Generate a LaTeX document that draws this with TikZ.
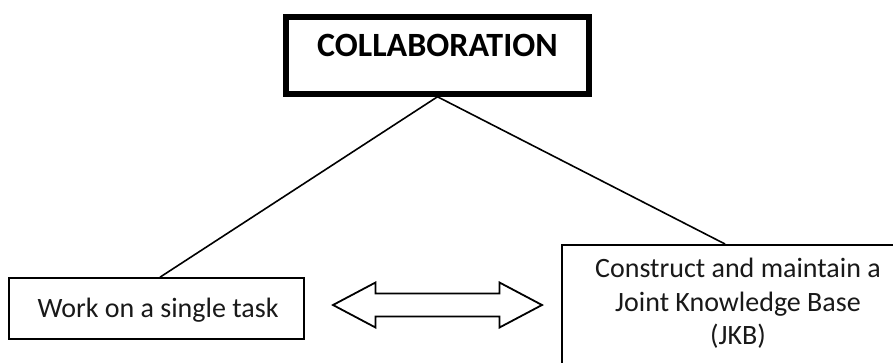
\documentclass[tikz,border=0pt]{standalone}
\usepackage{fontspec}
\setmainfont{Carlito}
\begin{document}
\begin{tikzpicture}[x=1pt,y=-1pt,
  thinbox/.style={draw=black, line width=1.6pt, inner sep=0pt},
  thickbox/.style={draw=black, line width=5.5pt, inner sep=0pt},
  bodytext/.style={inner sep=0pt, font=\fontsize{28}{33.5}\selectfont, text=black!90},
  titletext/.style={inner sep=0pt, font=\bfseries\fontsize{34}{40}\selectfont, text=black},
  linkline/.style={draw=black, line width=1.6pt},
  arrowline/.style={draw=black, line width=1.8pt, line join=miter, fill=white}]
\useasboundingbox (0,0) rectangle (893,362);
\fill[white] (0,0) rectangle (893,362);
% boxes
\node[thickbox, minimum width=303pt, minimum height=77pt] (collab) at (437.5,55.5) {};
\node[titletext] (collabtext) at (437.5,45) {COLLABORATION};
\node[thinbox, minimum width=295pt, minimum height=61pt] (single) at (156.5,308.5) {};
\node[bodytext, anchor=base] (singletext) at (158,317) {Work on a single task};
\node[thinbox, minimum width=356pt, minimum height=150pt, anchor=north west] (jkb) at (561,244) {};
\node[bodytext, align=center, anchor=north] (jkbtext) at (738,258) {Construct and maintain a\\Joint Knowledge Base\\(JKB)};
% connectors
\draw[linkline] (collab.south) -- ([xshift=3.5pt]single.north);
\draw[linkline] (collab.south) -- ([xshift=164pt]jkb.north west);
% double arrow
\coordinate (arrowc) at (437.5,305);
\begin{scope}[shift={(arrowc)}]
\draw[arrowline] (-104.5,0) -- (-62,-22.5) -- (-62,-11.5) -- (62,-11.5) -- (62,-22.5) -- (104.5,0) -- (62,22.5) -- (62,11.5) -- (-62,11.5) -- (-62,22.5) -- cycle;
\end{scope}
\end{tikzpicture}
\end{document}
